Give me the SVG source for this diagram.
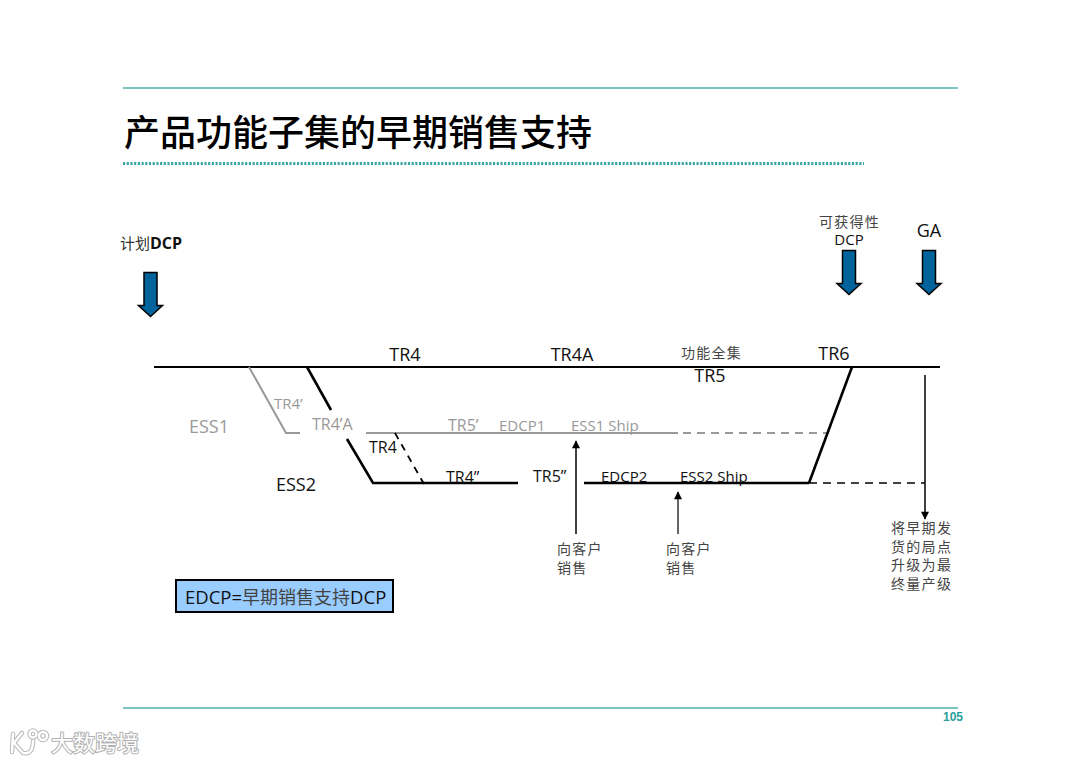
<svg xmlns="http://www.w3.org/2000/svg" width="1080" height="763" viewBox="0 0 1080 763">
<defs>
<style>
text{font-family:"Open Sans","Noto Sans","Noto Sans CJK SC",sans-serif;font-size:18px;fill:#111}
.s{font-size:16px}
.m{font-size:15px}
.cjk{font-family:"Noto Sans CJK SC",sans-serif;font-size:14px;fill:#444;letter-spacing:1.300px}
.g{fill:#999}
.k{fill:none;stroke:#000;stroke-width:2.600}
.t{fill:none;stroke:#000;stroke-width:2}
.h{fill:none;stroke:#999;stroke-width:2}
.dk{fill:none;stroke:#000;stroke-width:1.600;stroke-dasharray:8 6}
.dk2{fill:none;stroke:#000;stroke-width:1.800;stroke-dasharray:7 6}
.dg{fill:none;stroke:#999;stroke-width:2;stroke-dasharray:8 6}
.ar{fill:#00639c;stroke:#000;stroke-width:1.500}
.teal{stroke:#4fb0ab;stroke-width:1.400;fill:none}
.wm{font-family:"Noto Sans CJK SC",sans-serif;font-size:22px;font-weight:400;fill:#fff;stroke:#b0b0b0;stroke-width:2;paint-order:stroke;stroke-linejoin:round}
.lg{fill:none;stroke:#b8b8b8;stroke-width:4.500;stroke-linecap:round}
.lw{fill:none;stroke:#fff;stroke-width:2.500;stroke-linecap:round}
</style>
<marker id="tip" viewBox="0 0 10 10" refX="9" refY="5" markerWidth="10" markerHeight="8" markerUnits="userSpaceOnUse" orient="auto"><path d="M0 0L10 5L0 10Z" fill="#000"/></marker>
<path id="bigarrow" class="ar" d="M-6.500 0H6.500V33H12L0 44L-12 33H-6.500Z"/>
<g id="logo"><path d="M13 734L12 752M22 733L14 743L23 753C31 755 33 748 33 741"/><circle cx="33" cy="734" r="3.500"/><circle cx="43" cy="736" r="4"/></g>
</defs>
<rect width="1080" height="763" fill="#fff"/>

<g id="header">
<line class="teal" x1="123" y1="88" x2="958" y2="88"/>
<text x="124" y="146" style="font-family:'Noto Sans CJK SC',sans-serif;font-size:36px;font-weight:500;fill:#000">产品功能子集的早期销售支持</text>
<line x1="123" y1="163.500" x2="864" y2="163.500" stroke="#3ba7a2" stroke-width="3" stroke-dasharray="2.200 1.500"/>
</g>

<g id="connectors">
<line class="t" x1="154" y1="367" x2="940" y2="367"/>
<path class="h" d="M249 367L286 433H300"/>
<line class="k" x1="307" y1="367" x2="331" y2="410"/>
<path class="k" d="M347 439L373 483H518"/>
<line class="h" x1="366" y1="433" x2="678" y2="433"/>
<line class="dg" x1="683" y1="433" x2="828" y2="433"/>
<line class="k" x1="584" y1="483" x2="809" y2="483"/>
<line class="k" x1="809" y1="483" x2="852" y2="367"/>
<line class="dk" x1="809" y1="483" x2="925" y2="483"/>
<line class="dk2" x1="395" y1="433" x2="424" y2="484"/>
<line x1="576" y1="534" x2="576" y2="441" stroke="#000" stroke-width="1.500" marker-end="url(#tip)"/>
<line x1="678" y1="534" x2="678" y2="492" stroke="#333" stroke-width="1.500" marker-end="url(#tip)"/>
<line x1="925" y1="375" x2="925" y2="519" stroke="#000" stroke-width="1.500" marker-end="url(#tip)"/>
</g>

<g id="plan-dcp">
<text x="120" y="249" class="cjk" style="font-size:15px;fill:#333;letter-spacing:0">计划<tspan style="font-family:'Open Sans',sans-serif;font-size:16px;font-weight:700;fill:#111">DCP</tspan></text>
<use href="#bigarrow" x="150.500" y="272.500"/>
</g>
<g id="avail-dcp">
<text x="849.500" y="227" text-anchor="middle" class="cjk">可获得性</text>
<text x="849" y="245" text-anchor="middle" class="m">DCP</text>
<use href="#bigarrow" x="849" y="250.500"/>
</g>
<g id="ga">
<text x="929" y="237" text-anchor="middle">GA</text>
<use href="#bigarrow" x="929" y="250.500"/>
</g>

<g id="main-labels">
<text x="405" y="361" text-anchor="middle">TR4</text>
<text x="572" y="361" text-anchor="middle">TR4A</text>
<text x="711.500" y="358" text-anchor="middle" class="cjk">功能全集</text>
<text x="710" y="382" text-anchor="middle">TR5</text>
<text x="834" y="360" text-anchor="middle">TR6</text>
</g>
<g id="ess1">
<text x="189" y="433" class="g">ESS1</text>
<text x="274" y="409" class="g m">TR4’</text>
<text x="312" y="430" class="g s">TR4’A</text>
<text x="448" y="431" class="g s">TR5’</text>
<text x="499" y="431" class="g m">EDCP1</text>
<text x="571" y="431" class="g m">ESS1 Ship</text>
</g>
<g id="ess2">
<text x="276" y="491">ESS2</text>
<text x="369" y="453" class="s">TR4</text>
<text x="446" y="483" class="s">TR4”</text>
<text x="533" y="482" class="s">TR5”</text>
<text x="601" y="482" class="m">EDCP2</text>
<text x="680" y="482" class="m">ESS2 Ship</text>
</g>
<g id="sale-1">
<text x="557" y="554" class="cjk">向客户</text>
<text x="557" y="573" class="cjk">销售</text>
</g>
<g id="sale-2">
<text x="666" y="554" class="cjk">向客户</text>
<text x="666" y="573" class="cjk">销售</text>
</g>
<g id="upgrade-note">
<text x="891" y="533" class="cjk">将早期发</text>
<text x="891" y="552" class="cjk">货的局点</text>
<text x="891" y="570" class="cjk">升级为最</text>
<text x="891" y="589" class="cjk">终量产级</text>
</g>
<g id="legend">
<rect x="176" y="580" width="217" height="32" fill="#99ccff" stroke="#000" stroke-width="2"/>
<text x="185" y="604" style="font-size:18.500px">EDCP=<tspan style="font-family:'Noto Sans CJK SC',sans-serif;font-size:18px;fill:#444">早期销售支持</tspan>DCP</text>
</g>
<g id="footer">
<line class="teal" x1="123" y1="708" x2="958" y2="708"/>
<text x="963" y="721" text-anchor="end" style="font-family:'Liberation Sans',sans-serif;font-size:12px;font-weight:700;fill:#2a9d98">105</text>
</g>
<g id="watermark">
<use href="#logo" class="lg"/>
<use href="#logo" class="lw"/>
<text x="51" y="751" class="wm">大数跨境</text>
</g>
</svg>
